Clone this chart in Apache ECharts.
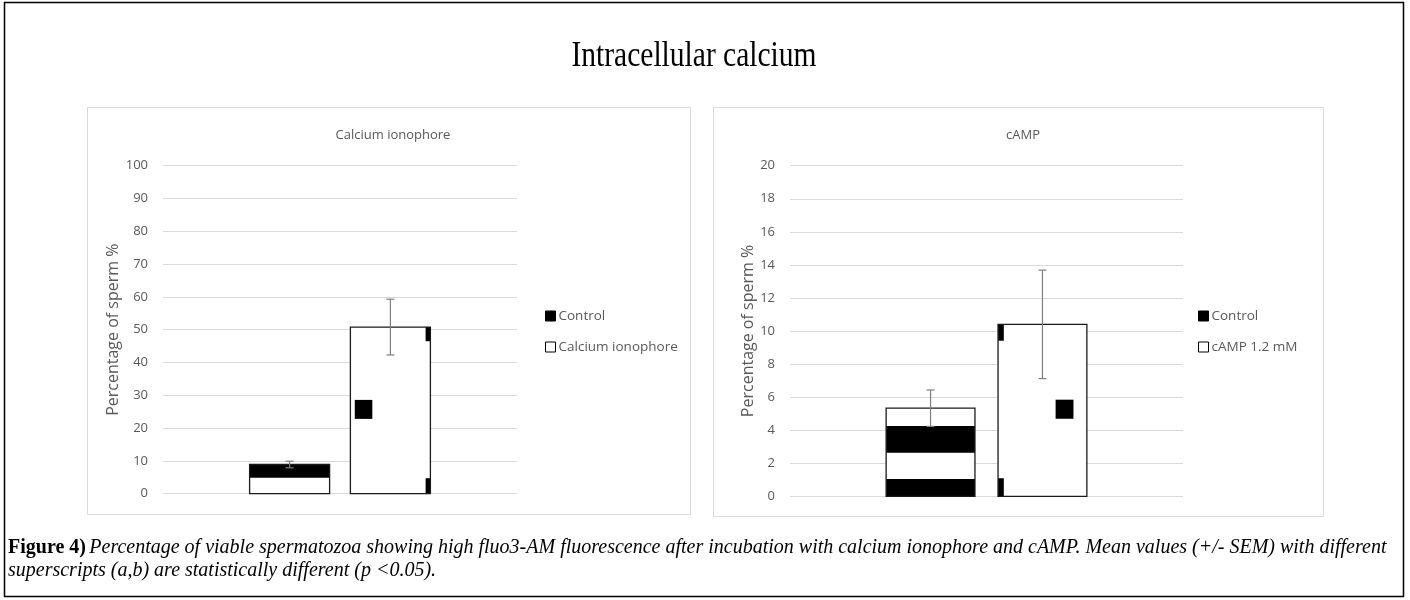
<!DOCTYPE html>
<html>
<head>
<meta charset="utf-8">
<script src="https://cdn.jsdelivr.net/npm/echarts@6/dist/echarts.min.js"></script>
<style>
html,body{margin:0;padding:0;background:#fff;}
#chart{width:1410px;height:600px;}
</style>
</head>
<body>
<div id="chart"></div>
<script>
// ---------------- data ----------------
const mainTitle = 'Intracellular calcium';
const categories = ['Intracellular calcium'];

const ionoTitle = 'Calcium ionophore';
const ionoNames = ['Control', 'Calcium ionophore'];
const ionoMeans = [8.9, 50.8];
const ionoSem = [1.0, 8.5];
const ionoAxis = { min: 0, max: 100, interval: 10 };

const campTitle = 'cAMP';
const campNames = ['Control', 'cAMP 1.2 mM'];
const campMeans = [5.33, 10.4];
const campSem = [1.1, 3.28];
const campAxis = { min: 0, max: 20, interval: 2 };

const yAxisName = 'Percentage of sperm %';
const captionBold = 'Figure 4)';
const captionLine1 = 'Percentage of viable spermatozoa showing high fluo3-AM fluorescence after incubation with calcium ionophore and cAMP. Mean values (+/- SEM) with different';
const captionLine2 = 'superscripts (a,b) are statistically different (p <0.05).';

// ---------------- style (pattern-fill artifacts, fractions of bar box) ----------------
const BAR_FRAC = 0.226;
const GAP_FRAC = 0.26;
const patterns = {
  ionoControl: [[0, 1, 0, 0.455]],
  ionoTreat: [[0.055, 0.274, 0.437, 0.551], [0.94, 1, 0, 0.085], [0.94, 1, 0.907, 1]],
  campControl: [[0, 1, 0.203, 0.505], [0, 1, 0.803, 1]],
  campTreat: [[0.648, 0.849, 0.438, 0.549], [0, 0.065, 0, 0.095], [0, 0.065, 0.895, 1]]
};

const FONT = '"Open Sans", sans-serif';
const GREY = '#595959';

function makeRender(idx, count, pat) {
  return function (params, api) {
    const c = api.value(0), v = api.value(1), e = api.value(2);
    const base = api.coord([c, 0]);
    const top = api.coord([c, v]);
    const band = api.size([1, 0])[0];
    const bw = band * BAR_FRAC;
    const gap = bw * GAP_FRAC;
    const total = count * bw + (count - 1) * gap;
    const x = base[0] - total / 2 + idx * (bw + gap);
    const y = top[1];
    const h = base[1] - top[1];
    const children = [];
    children.push({ type: 'rect', shape: { x: x, y: y, width: bw, height: h }, style: { fill: '#fff' } });
    pat.forEach(function (p) {
      children.push({
        type: 'rect',
        shape: { x: x + p[0] * bw, y: y + p[2] * h, width: (p[1] - p[0]) * bw, height: (p[3] - p[2]) * h },
        style: { fill: '#000' }
      });
    });
    children.push({ type: 'rect', shape: { x: x, y: y, width: bw, height: h }, style: { fill: 'none', stroke: '#1a1a1a', lineWidth: 1.3 } });
    const cx = x + bw / 2;
    const eTop = api.coord([c, v + e])[1];
    const eBot = api.coord([c, v - e])[1];
    const cap = 4;
    const es = { stroke: '#7f7f7f', lineWidth: 1.2 };
    children.push({ type: 'line', shape: { x1: cx, y1: eTop, x2: cx, y2: eBot }, style: es });
    children.push({ type: 'line', shape: { x1: cx - cap, y1: eTop, x2: cx + cap, y2: eTop }, style: es });
    children.push({ type: 'line', shape: { x1: cx - cap, y1: eBot, x2: cx + cap, y2: eBot }, style: es });
    return { type: 'group', children: children };
  };
}

function seriesFor(names, means, sems, pats, gi) {
  return names.map(function (n, i) {
    return {
      type: 'custom',
      name: n,
      xAxisIndex: gi,
      yAxisIndex: gi,
      renderItem: makeRender(i, names.length, pats[i]),
      encode: { x: 0, y: 1 },
      itemStyle: i === 0 ? { color: '#000' } : { color: '#fff', borderColor: '#000', borderWidth: 1 },
      data: categories.map(function (c, k) { return [k, means[i], sems[i]]; }),
      z: 3
    };
  });
}

function yAx(ax, gi, gap) {
  return {
    type: 'value', gridIndex: gi, min: ax.min, max: ax.max, interval: ax.interval,
    name: yAxisName, nameLocation: 'middle', nameGap: gap, nameRotate: 90,
    nameTextStyle: { color: GREY, fontSize: 16, fontFamily: FONT },
    axisLine: { show: false }, axisTick: { show: false },
    axisLabel: { color: GREY, fontSize: 13, fontFamily: FONT, margin: 15 },
    splitLine: { lineStyle: { color: '#d9d9d9', width: 1 } }
  };
}
function xAx(gi) {
  return {
    type: 'category', gridIndex: gi, data: categories,
    axisLine: { show: false }, axisTick: { show: false }, axisLabel: { show: false },
    splitLine: { show: false }
  };
}
function legendFor(names, left) {
  return {
    orient: 'vertical', left: left, top: 304, itemWidth: 10, itemHeight: 10, itemGap: 17,
    icon: 'rect',
    textStyle: { color: GREY, fontSize: 13.5, fontFamily: FONT, padding: [0, 0, 0, -2] },
    data: [
      { name: names[0], itemStyle: { color: '#000', borderColor: '#000', borderWidth: 1 } },
      { name: names[1], itemStyle: { color: '#fff', borderColor: '#000', borderWidth: 1 } }
    ]
  };
}

const chart = echarts.init(document.getElementById('chart'), null, { renderer: 'canvas' });
chart.setOption({
  backgroundColor: '#fff',
  animation: false,
  title: [
    { text: ionoTitle, left: 388, top: 124, textAlign: 'center', textStyle: { color: GREY, fontSize: 13, fontWeight: 'normal', fontFamily: FONT } },
    { text: campTitle, left: 1018, top: 124, textAlign: 'center', textStyle: { color: GREY, fontSize: 13, fontWeight: 'normal', fontFamily: FONT } }
  ],
  legend: [legendFor(ionoNames, 540), legendFor(campNames, 1193)],
  grid: [
    { left: 163, right: 893, top: 165.7, bottom: 106.3, outerBoundsMode: 'none' },
    { left: 790, right: 227, top: 165.7, bottom: 103.7, outerBoundsMode: 'none' }
  ],
  xAxis: [xAx(0), xAx(1)],
  yAxis: [yAx(ionoAxis, 0, 38), yAx(campAxis, 1, 33)],
  series: seriesFor(ionoNames, ionoMeans, ionoSem, [patterns.ionoControl, patterns.ionoTreat], 0)
    .concat(seriesFor(campNames, campMeans, campSem, [patterns.campControl, patterns.campTreat], 1)),
  graphic: [
    { type: 'rect', silent: true, z: -1, shape: { x: 4.5, y: 2.5, width: 1399, height: 594 }, style: { fill: 'none', stroke: '#000', lineWidth: 1.5 } },
    { type: 'rect', silent: true, z: -1, shape: { x: 87.5, y: 107.5, width: 603, height: 407 }, style: { fill: 'none', stroke: '#d9d9d9', lineWidth: 1 } },
    { type: 'rect', silent: true, z: -1, shape: { x: 713.5, y: 107.5, width: 610, height: 409 }, style: { fill: 'none', stroke: '#d9d9d9', lineWidth: 1 } },
    { type: 'text', silent: true, x: 694, y: 57, scaleX: 0.82,
      style: { text: mainTitle, fill: '#000', font: '36px "Liberation Serif", serif', textAlign: 'center', textVerticalAlign: 'middle' } },
    { type: 'text', silent: true, x: 8, y: 548,
      style: { text: '{b|' + captionBold + '} {i|' + captionLine1 + '}', textVerticalAlign: 'middle',
        rich: { b: { fontFamily: '"Liberation Serif", serif', fontWeight: 'bold', fontSize: 20, fill: '#000' },
                i: { fontFamily: '"Liberation Serif", serif', fontStyle: 'italic', fontSize: 20, fill: '#000' } } } },
    { type: 'text', silent: true, x: 8, y: 571,
      style: { text: captionLine2, fill: '#000', textVerticalAlign: 'middle', font: 'italic 20px "Liberation Serif", serif' } }
  ]
});
</script>
</body>
</html>
